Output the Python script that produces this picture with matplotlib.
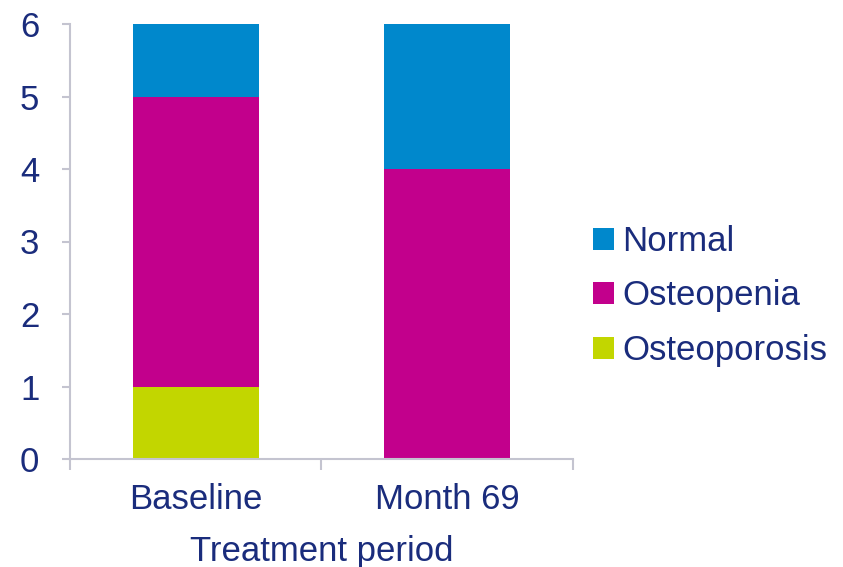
import matplotlib
matplotlib.use("Agg")
import matplotlib.pyplot as plt
from matplotlib.patches import Patch

# Number of patients by bone density category
periods = ["Baseline", "Month 69"]
osteoporosis = [1, 0]
osteopenia = [4, 4]
normal = [1, 2]

categories = ["Normal", "Osteopenia", "Osteoporosis"]
colors = {"Normal": "#0088cc", "Osteopenia": "#c2008c", "Osteoporosis": "#c2d600"}
text_color = "#1a2c7c"
axis_color = "#c4c4d0"

plt.rcParams["font.family"] = ["Liberation Sans", "DejaVu Sans"]

fig = plt.figure(figsize=(8.43, 5.67), dpi=100)
ax = fig.add_axes([70 / 843, 1 - 459 / 567, (573 - 70) / 843, (459 - 24) / 567])

x = list(range(len(periods)))
w = 0.5
ax.bar(x, osteoporosis, width=w, color=colors["Osteoporosis"])
bottom2 = osteoporosis
ax.bar(x, osteopenia, width=w, bottom=bottom2, color=colors["Osteopenia"])
bottom3 = [a + b for a, b in zip(osteoporosis, osteopenia)]
ax.bar(x, normal, width=w, bottom=bottom3, color=colors["Normal"])

ax.set_xlim(-0.5, 1.5)
ax.set_ylim(0, 6)
ax.set_yticks(range(0, 7))
ax.set_xticks([-0.5, 0.5, 1.5], minor=False)
ax.set_xticklabels(["", "", ""])
ax.set_xticks(x, minor=True)
ax.set_xticklabels(periods, minor=True)

for s in ["top", "right"]:
    ax.spines[s].set_visible(False)
for s in ["left", "bottom"]:
    ax.spines[s].set_color(axis_color)
    ax.spines[s].set_linewidth(1.5)

fs = 25
ax.tick_params(axis="y", which="major", length=6, width=1.5, color=axis_color,
               labelsize=fs, labelcolor=text_color, pad=16)
ax.tick_params(axis="x", which="major", length=8, width=1.5, color=axis_color)
ax.tick_params(axis="x", which="minor", length=0, labelsize=fs,
               labelcolor=text_color, pad=17)

ax.set_xlabel("Treatment period", fontsize=fs, color=text_color, labelpad=14)

handles = [Patch(facecolor=colors[c], edgecolor="none", label=c) for c in categories]
leg = fig.legend(handles=handles, loc="center left",
                 bbox_to_anchor=(579 / 843, 1 - 296 / 567),
                 frameon=False, fontsize=fs, labelcolor=text_color,
                 handlelength=0.6, handleheight=0.6, handletextpad=0.25,
                 labelspacing=0.62, borderaxespad=0)

fig.savefig("out.png", dpi=100)
